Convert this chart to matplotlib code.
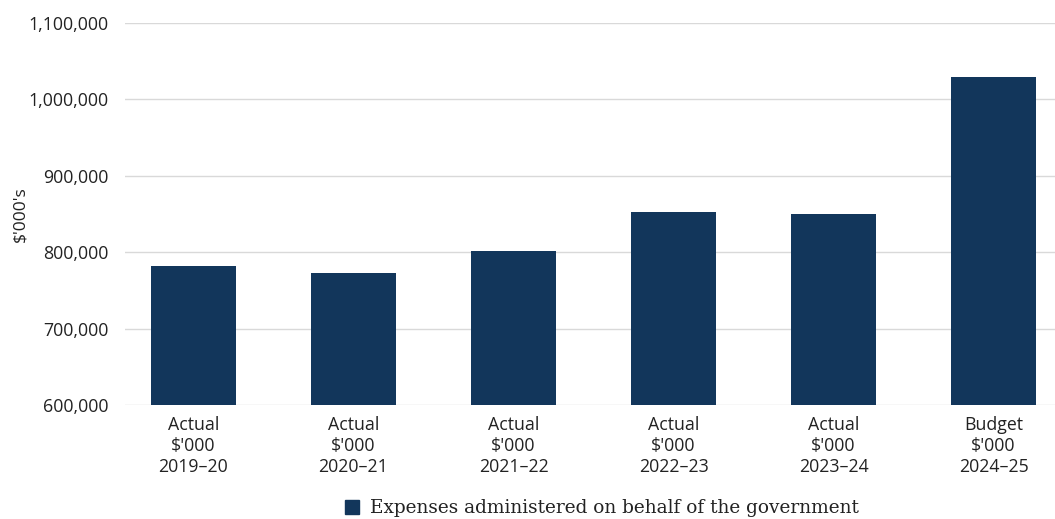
import matplotlib
matplotlib.use("Agg")
import matplotlib.pyplot as plt
from matplotlib.ticker import FuncFormatter
from matplotlib.patches import Patch

categories = ["Actual\n$'000\n2019\u201320", "Actual\n$'000\n2020\u201321", "Actual\n$'000\n2021\u201322",
              "Actual\n$'000\n2022\u201323", "Actual\n$'000\n2023\u201324", "Budget\n$'000\n2024\u201325"]
values = [782000, 772800, 801600, 852600, 850000, 1029300]
series_name = "Expenses administered on behalf of the government"
y_ticks = [600000, 700000, 800000, 900000, 1000000, 1100000]

bar_color = "#12365b"
text_color = "#222222"

fig = plt.figure(figsize=(10.55, 5.19), dpi=100)
ax = fig.add_axes([125/1055, 1-405/519, 930/1055, (405-23)/519])

x = list(range(len(categories)))
ax.bar(x, values, width=0.53, color=bar_color, zorder=3)
ax.set_ylim(600000, 1100000)
ax.set_xlim(-0.428, 5.384)
ax.set_yticks(y_ticks)
ax.yaxis.set_major_formatter(FuncFormatter(lambda v, p: f"{int(v):,}"))
ax.grid(axis="y", color="#d9d9d9", linewidth=1.0, zorder=0)
ax.grid(axis="x", visible=False)
for s in ax.spines.values():
    s.set_visible(False)
ax.tick_params(axis="both", length=0, colors=text_color, labelsize=12.8)
ax.tick_params(axis="y", pad=12)
ax.tick_params(axis="x", pad=8)
ax.set_xticks(x)
ax.set_xticklabels(categories, fontfamily="Open Sans", linespacing=1.22)
for lab in ax.get_yticklabels():
    lab.set_fontfamily("Open Sans")
ax.set_ylabel("$'000's", fontsize=12.5, fontfamily="Open Sans", color=text_color, labelpad=0)

handles = [Patch(facecolor=bar_color, edgecolor=bar_color, label=series_name)]
fig.legend(handles=handles, loc="center", bbox_to_anchor=(602/1055, 1-508/519), frameon=False,
           prop={"family": "DejaVu Serif", "size": 13.3}, handlelength=0.8, handleheight=0.8,
           handletextpad=0.6, labelcolor=text_color)

fig.savefig("out.png", dpi=100)
